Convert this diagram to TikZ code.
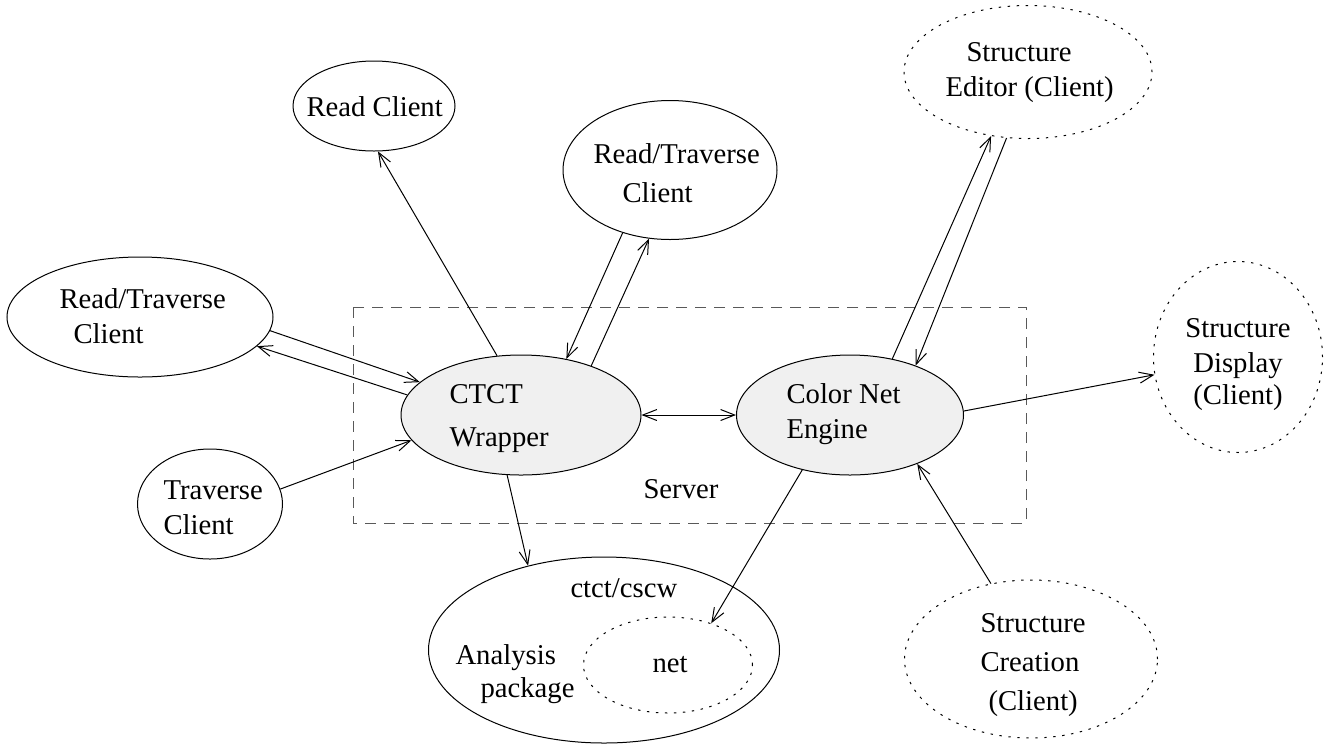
\documentclass[tikz,border=0pt]{standalone}
\usepackage{fontspec}
\setmainfont{Liberation Serif}
\usetikzlibrary{shapes.geometric,arrows.meta}
\definecolor{srvfill}{gray}{0.94}
\tikzset{
  client/.style 2 args={ellipse, draw, inner sep=0pt,
    minimum width=#1*0.5pt, minimum height=#2*0.5pt},
  extclient/.style={dash pattern=on 1.2pt off 3.3pt},
  srvnode/.style={fill=srvfill},
  srvbox/.style={draw=black!65, dash pattern=on 5.5pt off 4pt},
  txt/.style={anchor=north west, align=left, inner sep=0pt},
  txtone/.style={anchor=base west, inner sep=0pt}
}
\begin{document}
\begin{tikzpicture}[x=0.5pt, y=-0.5pt, line width=0.5pt,
    >={Straight Barb[length=7pt,width=5.5pt]},
    every node/.style={font=\fontsize{14.35}{17.5}\selectfont}]
  \useasboundingbox (0,0) rectangle (1328,746);

  % Server
  \draw[srvbox] (353,307) rectangle (1026,523);
  \node[txtone] (srv) at (643,498) {Server};
  \node[client={240}{120}, srvnode] (cw) at (521,415) {};
  \node[client={227}{120}, srvnode] (cne) at (850,415) {};
  \node[txt] (cw-t) at (449,384.4) {CTCT\\[4pt]Wrapper};
  \node[txt] (cne-t) at (786,383.4) {Color Net\\Engine};

  % Clients
  \node[client={162}{90}] (rc) at (374,106) {};
  \node[client={214}{139}] (trt) at (670,170) {};
  \node[client={266}{120}] (lrt) at (140,317) {};
  \node[client={145}{110}] (tc) at (210,504) {};
  \node[txtone] (rc-t) at (306,116) {Read Client};
  \node[txt] (trt-t) at (593,143.4) {Read/Traverse\\[2pt]\hspace*{14.5pt}Client};
  \node[txt] (lrt-t) at (59,288.4) {Read/Traverse\\\hspace*{7pt}Client};
  \node[txt] (tc-t) at (163,480.4) {Traverse\\Client};

  % Structure clients (dotted)
  \node[client={248}{133}, extclient] (se) at (1028,72) {};
  \node[client={169}{191}, extclient] (sd) at (1238,357) {};
  \node[client={253}{158}, extclient] (scr) at (1031,659) {};
  \node[txt] (se-t) at (945,42.4) {\hspace*{10.5pt}Structure\\Editor (Client)};
  \node[txt, anchor=north, align=center] (sd-t) at (1238,318.4) {Structure\\Display\\[-1.5pt](Client)};
  \node[txt] (scr-t) at (980,613.4) {Structure\\[2pt]Creation\\[2pt]\hspace*{4pt}(Client)};

  % Analysis package
  \node[client={351}{186}] (ap) at (604,650) {};
  \node[client={169}{96}, extclient] (net) at (668,665) {};
  \node[txtone] (ap-t) at (570,597) {ctct/cscw};
  \node[txt] (ap-t2) at (455,644.4) {Analysis\\[-1pt]\hspace*{12.5pt}package};
  \node[txtone] (net-t) at (652,672) {net};

  % Verbindungen
  \draw[->] (cw.112) -- (rc.-85);
  \draw[->] (trt.233) -- (cw.51);
  \draw[->] (cw.35) -- (trt.-107);
  \draw[->] (lrt.-6) -- (cw.162);
  \draw[->] (cw.170) -- (lrt.-14);
  \draw[->] (tc.12) -- (cw.193);
  \draw[<->] (cw.0) -- (cne.180);
  \draw[->] (cw.-103) -- (ap.132);
  \draw[->] (cne.-131) -- (net.44);
  \draw[->] (scr.118) -- (cne.-36);
  \draw[->] (cne.2) -- (sd.192);
  \draw[->] (cne.53) -- (se.-120);
  \draw[->] (se.-108) -- (cne.37);
\end{tikzpicture}
\end{document}
